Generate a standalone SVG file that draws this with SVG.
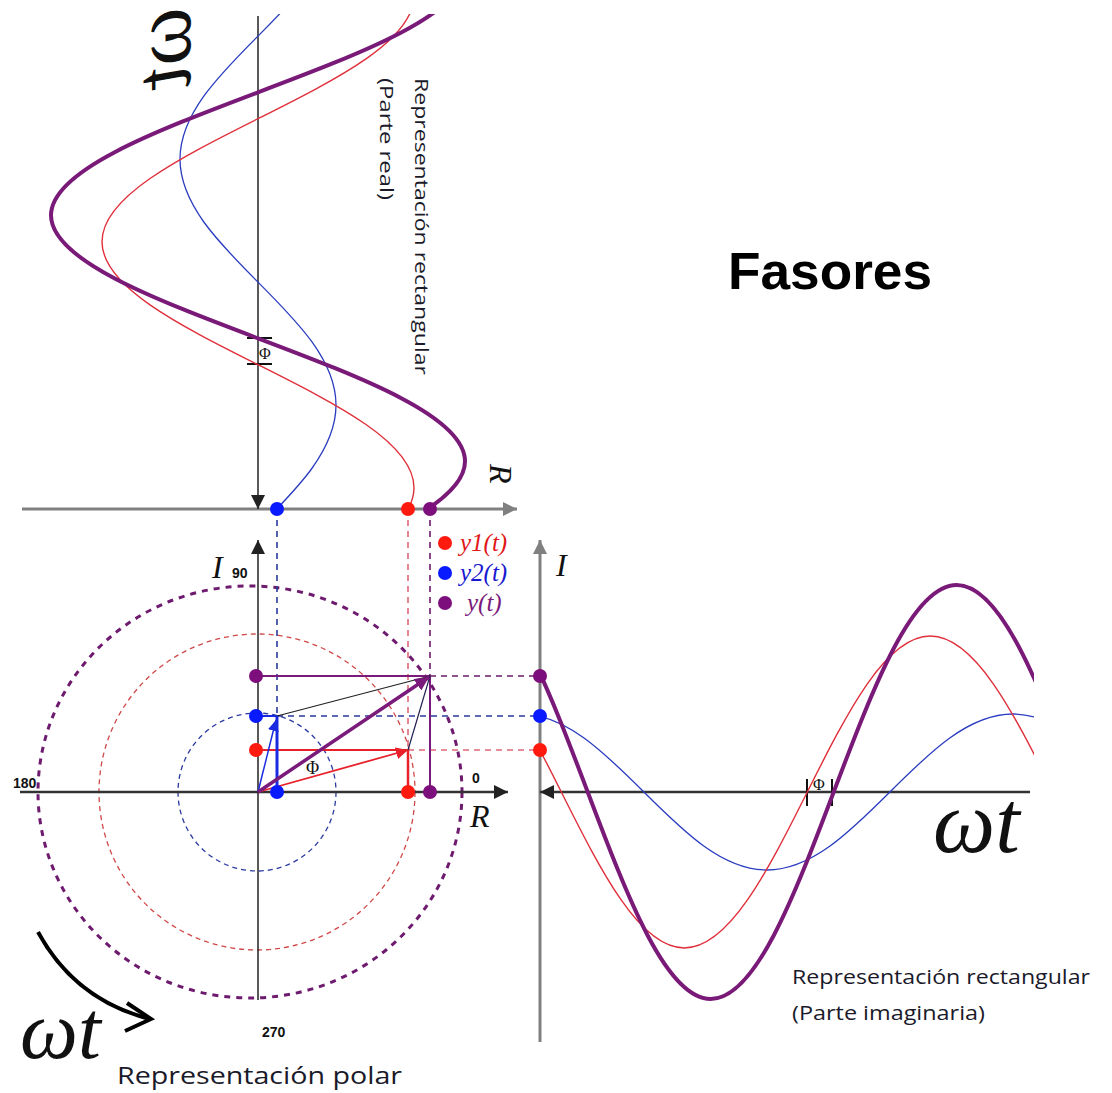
<svg xmlns="http://www.w3.org/2000/svg" width="1112" height="1093" viewBox="0 0 1112 1093">
<style>
.ax-gray{stroke:#808080;stroke-width:3;fill:none}
.ax-blk{stroke:#222;stroke-width:1.5;fill:none}
.ax-dark{stroke:#333;stroke-width:2.5;fill:none}
.wp{stroke:#7a1a78;stroke-width:4;fill:none}
.wr{stroke:#e0303c;stroke-width:1.4;fill:none}
.wb{stroke:#2a3cc0;stroke-width:1.3;fill:none}
.dp{stroke:#6a1a6a;stroke-width:1.6;stroke-dasharray:6 5;fill:none}
.dr{stroke:#e06878;stroke-width:1.6;stroke-dasharray:6 5;fill:none}
.db{stroke:#2a3a9a;stroke-width:1.6;stroke-dasharray:6 5;fill:none}
.cp{stroke:#6e1a6e;stroke-width:3;stroke-dasharray:6 6;fill:none}
.cr{stroke:#d04848;stroke-width:1.3;stroke-dasharray:5 4;fill:none}
.cb{stroke:#2a3aa0;stroke-width:1.3;stroke-dasharray:5 4;fill:none}
.pr{fill:#ff1a10}
.pb{fill:#0a1aff}
.pp{fill:#7d0f7d}
.lbl{font-family:"Liberation Sans",Arial,sans-serif;font-weight:bold;font-size:14px;fill:#111}
.math{font-family:"Liberation Serif","Times New Roman",serif;font-style:italic;fill:#111}
.txt{font-family:"Open Sans","Liberation Sans",sans-serif;fill:#1a1a2a}
.tick{stroke:#111;stroke-width:2;fill:none}
</style>
<defs>
<clipPath id="clipTop"><rect x="0" y="14" width="520" height="495"/></clipPath>
<clipPath id="clipRight"><rect x="540" y="500" width="494" height="560"/></clipPath>
<marker id="mBlkL" viewBox="0 0 10 10" refX="10" refY="5" markerWidth="14" markerHeight="14" markerUnits="userSpaceOnUse" orient="auto"><path d="M0,0 L10,5 L0,10 z" fill="#222"/></marker>
<marker id="mGray" viewBox="0 0 10 10" refX="10" refY="5" markerWidth="14" markerHeight="14" markerUnits="userSpaceOnUse" orient="auto"><path d="M0,0 L10,5 L0,10 z" fill="#808080"/></marker>
<marker id="mRed" viewBox="0 0 10 10" refX="10" refY="5" markerWidth="12" markerHeight="12" markerUnits="userSpaceOnUse" orient="auto"><path d="M0,0 L10,5 L0,10 z" fill="#e8202a"/></marker>
<marker id="mBlue" viewBox="0 0 10 10" refX="10" refY="5" markerWidth="11" markerHeight="11" markerUnits="userSpaceOnUse" orient="auto"><path d="M0,0 L10,5 L0,10 z" fill="#1a2ae0"/></marker>
<marker id="mPur" viewBox="0 0 10 10" refX="10" refY="5" markerWidth="14" markerHeight="14" markerUnits="userSpaceOnUse" orient="auto"><path d="M0,0 L10,5 L0,10 z" fill="#7a1a7a"/></marker>
</defs>
<rect width="1112" height="1093" fill="#fff"/>

<g id="title"><text x="728" y="289" font-family="Liberation Sans,Arial,sans-serif" font-weight="bold" font-size="52" fill="#000" textLength="204" lengthAdjust="spacingAndGlyphs">Fasores</text></g>

<g id="circles">
<circle class="cb" cx="257" cy="792" r="79"/>
<circle class="cr" cx="257" cy="792" r="158"/>
<ellipse class="cp" cx="250" cy="792" rx="212" ry="206"/>
</g>

<g id="connectors">
<line class="ax-gray" x1="22" y1="509" x2="517" y2="509" marker-end="url(#mGray)"/>
<line class="ax-blk" x1="258" y1="16" x2="258" y2="509" marker-end="url(#mBlkL)"/>
<line class="ax-dark" x1="20" y1="792" x2="508" y2="792" marker-end="url(#mBlkL)"/>
<line class="ax-blk" x1="258" y1="1000" x2="258" y2="540" marker-end="url(#mBlkL)"/>
<line class="ax-gray" x1="540" y1="1042" x2="540" y2="540" marker-end="url(#mGray)"/>
<line class="ax-dark" x1="1030" y1="792" x2="540" y2="792" marker-end="url(#mBlkL)"/>
<line class="db" x1="277" y1="509" x2="277" y2="716"/>
<line class="dr" x1="408" y1="509" x2="408" y2="792"/>
<line class="dp" x1="430" y1="509" x2="430" y2="676"/>
<line class="dp" x1="430" y1="676" x2="540" y2="676"/>
<line class="db" x1="277" y1="716" x2="540" y2="716"/>
<line class="dr" x1="408" y1="750" x2="540" y2="750"/>
<line x1="256" y1="676" x2="430" y2="676" stroke="#7a1a7a" stroke-width="2"/>
<line x1="430" y1="676" x2="430" y2="792" stroke="#7a1a7a" stroke-width="2"/>
<line x1="256" y1="750" x2="408" y2="750" stroke="#e8202a" stroke-width="2"/>
<line x1="408" y1="750" x2="408" y2="792" stroke="#e8202a" stroke-width="2.5"/>
<line x1="277" y1="716" x2="277" y2="792" stroke="#1a2ae0" stroke-width="3"/>
<line x1="256" y1="716" x2="277" y2="716" stroke="#1a2ae0" stroke-width="2"/>
<line x1="277" y1="716" x2="430" y2="676" stroke="#222" stroke-width="1.2"/>
<line x1="408" y1="750" x2="430" y2="676" stroke="#225" stroke-width="1.2"/>
<line x1="258" y1="792" x2="408" y2="750" stroke="#e8202a" stroke-width="1.8" marker-end="url(#mRed)"/>
<line x1="258" y1="792" x2="276" y2="720" stroke="#1a2ae0" stroke-width="1.5" marker-end="url(#mBlue)"/>
<line x1="258" y1="792" x2="429" y2="677" stroke="#7a1a7a" stroke-width="3.5" marker-end="url(#mPur)"/>
<path d="M38 932 Q75 1000 150 1019" stroke="#000" stroke-width="4" fill="none"/>
<path d="M127 1003 L151 1019 L125 1031" stroke="#000" stroke-width="4" fill="none"/>
<line class="tick" x1="247" y1="338" x2="272" y2="338"/>
<line class="tick" x1="247" y1="364" x2="272" y2="364"/>
<line class="tick" x1="807" y1="779" x2="807" y2="806"/>
<line class="tick" x1="832" y1="779" x2="832" y2="806"/>
</g>

<g id="waves-top" clip-path="url(#clipTop)">
<path class="wb" d="M258 528.1 C298 488,336 449.6,336 405.1 C336 360.6,298 322.2,258 282.1 C218 242,180 203.6,180 159.1 C180 114.6,218 76.2,258 36.1 C298 -4,336 -42.4,336 -86.9"/>
<path class="wr" d="M258 610.7 C338 570.6,414 532.2,414 487.7 C414 443.2,338 404.8,258 364.7 C178 324.6,102 286.2,102 241.7 C102 197.2,178 158.8,258 118.7 C338 78.6,414 40.2,414 -4.3"/>
<path class="wp" d="M258 584.3 C364 544.2,465 505.8,465 461.3 C465 416.8,364 378.4,258 338.3 C152 298.2,51 259.8,51 215.3 C51 170.8,152 132.4,258 92.3 C364 52.2,465 13.8,465 -30.7"/>
</g>

<g id="waves-right" clip-path="url(#clipRight)">
<path class="wb" d="M520.9 714 C565.4 714,603.8 752,643.9 792 C684 832,722.4 870,766.9 870 C811.4 870,849.8 832,889.9 792 C930 752,968.4 714,1012.9 714 C1057.4 714,1095.8 752,1135.9 792"/>
<path class="wr" d="M438.3 636 C482.8 636,521.2 712.1,561.3 792 C601.4 871.9,639.8 948,684.3 948 C728.8 948,767.2 871.9,807.3 792 C847.4 712.1,885.8 636,930.3 636 C974.8 636,1013.2 712.1,1053.3 792"/>
<path class="wp" d="M464.7 585 C509.2 585,547.6 686,587.7 792 C627.8 898,666.2 999,710.7 999 C755.2 999,793.6 898,833.7 792 C873.8 686,912.2 585,956.7 585 C1001.2 585,1039.6 686,1079.7 792"/>
</g>

<g id="points">
<circle class="pb" cx="277" cy="509" r="7"/>
<circle class="pr" cx="408" cy="509" r="7"/>
<circle class="pp" cx="430" cy="509" r="7"/>
<circle class="pp" cx="256" cy="676" r="7"/>
<circle class="pb" cx="256" cy="716" r="7"/>
<circle class="pr" cx="256" cy="750" r="7"/>
<circle class="pb" cx="277" cy="792" r="7"/>
<circle class="pr" cx="408" cy="792" r="7"/>
<circle class="pp" cx="430" cy="792" r="7"/>
<circle class="pp" cx="540" cy="676" r="7"/>
<circle class="pb" cx="540" cy="716" r="7"/>
<circle class="pr" cx="540" cy="750" r="7"/>
</g>

<g id="legend">
<circle class="pr" cx="445" cy="543" r="7"/>
<circle class="pb" cx="445" cy="573" r="7"/>
<circle class="pp" cx="445" cy="603" r="7"/>
<text class="math" x="460" y="551" font-size="25" style="fill:#e01818">y1(t)</text>
<text class="math" x="460" y="581" font-size="25" style="fill:#1818d0">y2(t)</text>
<text class="math" x="467" y="611" font-size="25" style="fill:#7a1a7a">y(t)</text>
</g>

<g id="labels">
<text class="lbl" x="13" y="788">180</text>
<text class="lbl" x="232" y="578">90</text>
<text class="lbl" x="472" y="783">0</text>
<text class="lbl" x="262" y="1037">270</text>
<text class="math" x="470" y="827" font-size="32">R</text>
<text class="math" font-size="32" transform="translate(490,464) rotate(90)">R</text>
<text class="math" x="212" y="578" font-size="32">I</text>
<text class="math" x="556" y="576" font-size="32">I</text>
<text class="math" x="933" y="852" font-size="88">ωt</text>
<text class="math" x="20" y="1058" font-size="82">ωt</text>
<text class="math" font-size="82" transform="matrix(0,1,1,0,190,8)">ωt</text>
<text font-family="Liberation Serif,serif" font-size="16" x="259" y="359" fill="#111">Φ</text>
<text font-family="Liberation Serif,serif" font-size="16" x="813" y="790" fill="#111">Φ</text>
<text font-family="Liberation Serif,serif" font-size="18" x="306" y="774" fill="#111">Φ</text>
<text class="txt" x="117" y="1084" font-size="23" textLength="285" lengthAdjust="spacingAndGlyphs">Representación polar</text>
<text class="txt" x="792" y="984" font-size="20" textLength="298" lengthAdjust="spacingAndGlyphs">Representación rectangular</text>
<text class="txt" x="792" y="1020" font-size="20" textLength="193" lengthAdjust="spacingAndGlyphs">(Parte imaginaria)</text>
<text class="txt" font-size="19" transform="translate(415,78) rotate(90)" textLength="297" lengthAdjust="spacingAndGlyphs">Representación rectangular</text>
<text class="txt" font-size="19" transform="translate(380,78) rotate(90)" textLength="122" lengthAdjust="spacingAndGlyphs">(Parte real)</text>
</g>
</svg>
